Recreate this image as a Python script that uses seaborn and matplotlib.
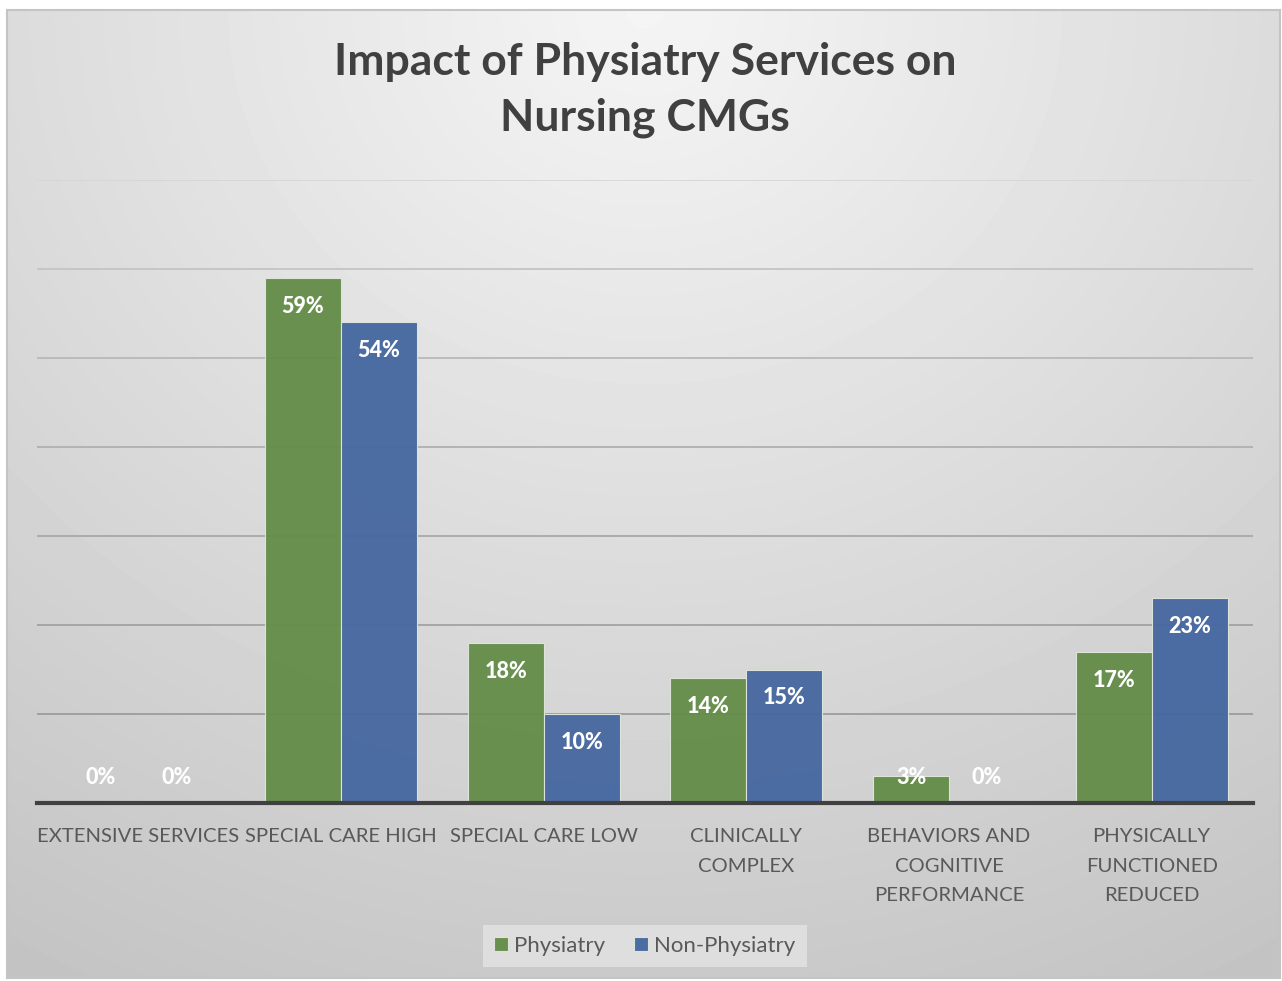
import numpy as np
import pandas as pd
import matplotlib
matplotlib.use("Agg")
import matplotlib.pyplot as plt
import seaborn as sns

categories = ["EXTENSIVE SERVICES", "SPECIAL CARE HIGH", "SPECIAL CARE LOW",
              "CLINICALLY\nCOMPLEX", "BEHAVIORS AND\nCOGNITIVE\nPERFORMANCE",
              "PHYSICALLY\nFUNCTIONED\nREDUCED"]
physiatry = [0, 59, 18, 14, 3, 17]
non_physiatry = [0, 54, 10, 15, 0, 23]
series = ["Physiatry", "Non-Physiatry"]
colors = ["#658d49", "#4668a0"]
title = "Impact of Physiatry Services on\nNursing CMGs"

df = pd.DataFrame({
    "category": categories * 2,
    "value": physiatry + non_physiatry,
    "series": [series[0]] * len(categories) + [series[1]] * len(categories),
})

sns.set_theme(style="white")
plt.rcParams["font.family"] = ["Lato", "DejaVu Sans"]

W, H = 1282, 981
fig = plt.figure(figsize=(W / 100, H / 100), dpi=100)
fig.patch.set_facecolor("white")

# gradient background panel
bg = fig.add_axes([7 / W, 1 - 978 / H, (1280 - 7) / W, (978 - 10) / H], zorder=-10)
gh, gw = 300, 400
yy, xx = np.mgrid[0:gh, 0:gw]
d = np.sqrt(((xx / gw - 0.5) / 0.85) ** 2 + (yy / gh) ** 2)
val = 0.96 - 0.17 * d
bg.imshow(val, cmap="gray", vmin=0, vmax=1, aspect="auto", interpolation="bilinear")
bg.set_xticks([]); bg.set_yticks([])
for s in bg.spines.values():
    s.set_color("#c4c4c4"); s.set_linewidth(1.5)

ax = fig.add_axes([37 / W, 1 - 803 / H, 1216 / W, 623 / H])
ax.set_facecolor("none")
sns.barplot(data=df, x="category", y="value", hue="series", palette=colors,
            width=0.75, saturation=1, edgecolor="#dfe6dc", linewidth=0.8,
            alpha=0.96, ax=ax, zorder=3)

ax.set_ylim(0, 70)
ax.set_yticks(range(0, 71, 10))
grid_cols = {10: "#9c9c9c", 20: "#a2a2a2", 30: "#a8a8a8", 40: "#b0b0b0",
             50: "#b8b8b8", 60: "#c4c4c4", 70: "#d6d6d6"}
for t, c in grid_cols.items():
    ax.axhline(t, color=c, lw=1.3, zorder=1)
ax.set_yticklabels([])
ax.tick_params(axis="y", length=0)
ax.set_xlabel(""); ax.set_ylabel("")
for s in ["left", "right", "top"]:
    ax.spines[s].set_visible(False)
ax.spines["bottom"].set_color("#404040")
ax.spines["bottom"].set_linewidth(3)
ax.spines["bottom"].set_zorder(5)
ax.tick_params(axis="x", length=0, pad=18, labelsize=14.6, labelcolor="#595959")
for lab in ax.get_xticklabels():
    lab.set_linespacing(1.9)

# data labels
for cont in ax.containers:
    for p in cont.patches:
        h = p.get_height()
        x = p.get_x() + p.get_width() / 2
        y = max(h - 3.2, 2.9)
        ax.text(x, y, f"{h:.0f}%", ha="center", va="center", color="white",
                fontsize=15.5, fontweight="black", zorder=6)

handles, labels = ax.get_legend_handles_labels()
ax.get_legend().remove()
leg = fig.legend(handles, labels, loc="center", bbox_to_anchor=(645 / W, 1 - 946 / H),
                 ncol=2, frameon=True, facecolor="#dedede", edgecolor="none",
                 fontsize=16, handlelength=0.6, handleheight=0.6,
                 handletextpad=0.3, columnspacing=1.3, borderpad=0.5,
                 borderaxespad=0, fancybox=False, framealpha=1)
for t in leg.get_texts():
    t.set_color("#595959")

fig.text(645 / W, 1 - 90 / H, title, ha="center", va="center", fontsize=32,
         fontweight="bold", color="#404040", linespacing=1.48)

fig.savefig("out.png", dpi=100)
